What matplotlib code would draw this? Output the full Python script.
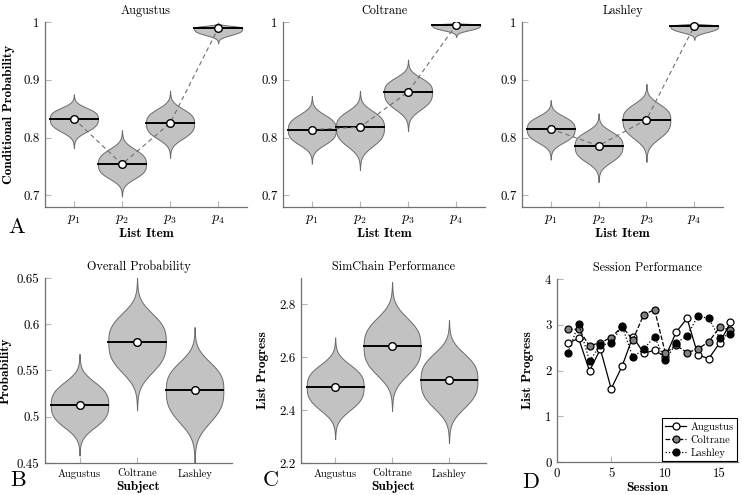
import numpy as np
import matplotlib
matplotlib.use('Agg')
import matplotlib.pyplot as plt

plt.rcParams['font.family'] = ['cmr10', 'DejaVu Serif']
plt.rcParams['mathtext.fontset'] = 'cm'
plt.rcParams['axes.formatter.use_mathtext'] = True

# ---------------- data ----------------
items = ['$p_1$', '$p_2$', '$p_3$', '$p_4$']
subjects = ['Augustus', 'Coltrane', 'Lashley']

# conditional probability posteriors (median, lower tail end, upper tail end)
aug_cond_med = [0.833, 0.754, 0.825, 0.989]
aug_cond_lo = [0.782, 0.698, 0.765, 0.963]
aug_cond_hi = [0.875, 0.813, 0.881, 0.999]

col_cond_med = [0.814, 0.818, 0.879, 0.995]
col_cond_lo = [0.755, 0.744, 0.811, 0.974]
col_cond_hi = [0.872, 0.881, 0.935, 0.999]

las_cond_med = [0.815, 0.786, 0.831, 0.993]
las_cond_lo = [0.762, 0.723, 0.758, 0.969]
las_cond_hi = [0.865, 0.842, 0.893, 0.999]

# overall probability
overall_med = [0.513, 0.581, 0.529]
overall_lo = [0.458, 0.507, 0.450]
overall_hi = [0.568, 0.650, 0.597]

# simchain performance
simchain_med = [2.489, 2.641, 2.514]
simchain_lo = [2.290, 2.397, 2.275]
simchain_hi = [2.675, 2.885, 2.741]

# session performance
sessions = list(range(1, 17))
aug_sess = [2.60, 2.70, 1.99, 2.47, 1.60, 2.09, 2.74, 2.38, 2.44, 2.30, 2.84, 3.14, 2.34, 2.26, 2.60, 3.05]
col_sess = [2.90, 2.90, 2.54, 2.61, 2.72, 2.96, 2.67, 3.22, 3.33, 2.38, 2.55, 2.39, 2.47, 2.63, 2.94, 2.89]
las_sess = [2.39, 3.02, 2.21, 2.55, 2.60, 2.98, 2.29, 2.47, 2.74, 2.22, 2.60, 2.76, 3.19, 3.14, 2.71, 2.80]

# ---------------- style helpers ----------------
FILL = '#c2c2c2'
EDGE = '#6a6a6a'
SPINE = '#707070'
TICK = '#b5b5b5'
TICK_FS = 9.2
LAB_FS = 9.6
TITLE_FS = 8.8


def style_axes(ax):
    for s in ['top', 'right']:
        ax.spines[s].set_visible(False)
    for s in ['left', 'bottom']:
        ax.spines[s].set_color(SPINE)
        ax.spines[s].set_linewidth(0.9)
    ax.tick_params(direction='in', length=4, width=0.8, color=TICK, labelsize=TICK_FS, pad=4)


def violin(ax, x, med, lo, hi, half=0.5):
    # width profile of the posterior density: broad body plus thin tails
    y = np.linspace(lo, hi, 500)
    frac = np.where(y >= med, (y - med) / (hi - med), (med - y) / (med - lo))
    body = np.exp(-(frac * 1.95) ** 3)
    tail = 0.045 * (1 - frac) ** 0.8
    w = half * (body + tail) / 1.045
    ax.fill_betweenx(y, x - w, x + w, facecolor=FILL, edgecolor=EDGE, linewidth=0.7, zorder=2)
    ax.plot([x - half, x + half], [med, med], color='black', lw=1.4, zorder=3)


def median_marker(ax, xs, meds):
    ax.plot(xs, meds, linestyle='none', marker='o', ms=5.5, mfc='white', mec='black', mew=1.0, zorder=5)


fig = plt.figure(figsize=(7.42, 4.95), dpi=100)

W, H = 742.0, 495.0


def add_axes(l, r, t, b):
    return fig.add_axes([l / W, 1 - b / H, (r - l) / W, (b - t) / H])


# ---------------- top row ----------------
top_specs = [
    ('Augustus', 45, 247, aug_cond_med, aug_cond_lo, aug_cond_hi),
    ('Coltrane', 283, 485, col_cond_med, col_cond_lo, col_cond_hi),
    ('Lashley', 522, 723, las_cond_med, las_cond_lo, las_cond_hi),
]
for i, (name, l, r, med, lo, hi) in enumerate(top_specs):
    ax = add_axes(l, r, 22, 207)
    style_axes(ax)
    xs = np.arange(1, len(items) + 1)
    for x, m, a, b in zip(xs, med, lo, hi):
        violin(ax, x, m, a, b)
    ax.plot(xs, med, linestyle=(0, (4, 3)), color='#6f6f6f', lw=0.8, zorder=4)
    median_marker(ax, xs, med)
    ax.set_xlim(0.4, 4.6)
    ax.set_ylim(0.68, 1.0)
    ax.set_xticks(xs)
    ax.set_xticklabels(items, fontsize=10)
    ax.set_yticks([0.7, 0.8, 0.9, 1.0])
    ax.set_yticklabels(['0.7', '0.8', '0.9', '1'])
    ax.set_title(name, fontsize=TITLE_FS, pad=6)
    ax.set_xlabel('List Item', fontfamily='cmb10', fontsize=LAB_FS, labelpad=2)
    if i == 0:
        ax.set_ylabel('Conditional Probability', fontfamily='cmb10', fontsize=LAB_FS, labelpad=6)

# ---------------- bottom row: B ----------------
axB = add_axes(45, 232, 278, 463)
style_axes(axB)
xs = np.arange(1, len(subjects) + 1)
for x, m, a, b in zip(xs, overall_med, overall_lo, overall_hi):
    violin(axB, x, m, a, b)
median_marker(axB, xs, overall_med)
axB.set_xlim(0.4, 3.65)
axB.set_ylim(0.45, 0.65)
axB.set_xticks(xs)
axB.set_xticklabels(subjects, fontsize=7.6)
axB.set_yticks([0.45, 0.5, 0.55, 0.6, 0.65])
axB.set_yticklabels(['0.45', '0.5', '0.55', '0.6', '0.65'])
axB.set_title('Overall Probability', fontsize=TITLE_FS, pad=6)
axB.set_xlabel('Subject', fontfamily='cmb10', fontsize=LAB_FS, labelpad=2)
axB.set_ylabel('Probability', fontfamily='cmb10', fontsize=LAB_FS, labelpad=4)

# ---------------- C ----------------
axC = add_axes(301, 486, 278, 463)
style_axes(axC)
for x, m, a, b in zip(xs, simchain_med, simchain_lo, simchain_hi):
    violin(axC, x, m, a, b)
median_marker(axC, xs, simchain_med)
axC.set_xlim(0.4, 3.65)
axC.set_ylim(2.2, 2.9)
axC.set_xticks(xs)
axC.set_xticklabels(subjects, fontsize=7.6)
axC.set_yticks([2.2, 2.4, 2.6, 2.8])
axC.set_yticklabels(['2.2', '2.4', '2.6', '2.8'])
axC.set_title('SimChain Performance', fontsize=TITLE_FS, pad=6)
axC.set_xlabel('Subject', fontfamily='cmb10', fontsize=LAB_FS, labelpad=2)
axC.set_ylabel('List Progress', fontfamily='cmb10', fontsize=LAB_FS, labelpad=7)

# ---------------- D ----------------
axD = add_axes(557, 738, 279, 462)
style_axes(axD)
axD.plot(sessions, aug_sess, '-', color='black', lw=0.9, marker='o', ms=5, mfc='white', mec='black', mew=0.9, label='Augustus', zorder=3)
axD.plot(sessions, col_sess, '--', color='black', lw=0.9, marker='o', ms=5, mfc='#808080', mec='black', mew=0.9, label='Coltrane', zorder=3)
axD.plot(sessions, las_sess, ':', color='black', lw=0.9, marker='o', ms=5, mfc='black', mec='black', mew=0.9, label='Lashley', zorder=3)
axD.set_xlim(0, 16.7)
axD.set_ylim(0, 4)
axD.set_xticks([0, 5, 10, 15])
axD.set_xticklabels(['0', '5', '10', '15'])
axD.set_yticks([0, 1, 2, 3, 4])
axD.set_yticklabels(['0', '1', '2', '3', '4'])
axD.set_title('Session Performance', fontsize=TITLE_FS, pad=6)
axD.set_xlabel('Session', fontfamily='cmb10', fontsize=LAB_FS, labelpad=2)
axD.set_ylabel('List Progress', fontfamily='cmb10', fontsize=LAB_FS, labelpad=8)
leg = axD.legend(loc='lower right', fontsize=7.6, frameon=True, fancybox=False,
                 edgecolor='black', framealpha=1, borderpad=0.35, labelspacing=0.3,
                 handlelength=2.0, handletextpad=0.4, borderaxespad=0.05)
leg.get_frame().set_linewidth(0.8)

# ---------------- panel letters ----------------
for letter, x, y in [('A', 8, 233), ('B', 10, 486), ('C', 263, 486), ('D', 522, 488)]:
    fig.text(x / W, 1 - y / H, letter, fontsize=16, ha='left', va='baseline')

fig.savefig('out.png', dpi=100)
